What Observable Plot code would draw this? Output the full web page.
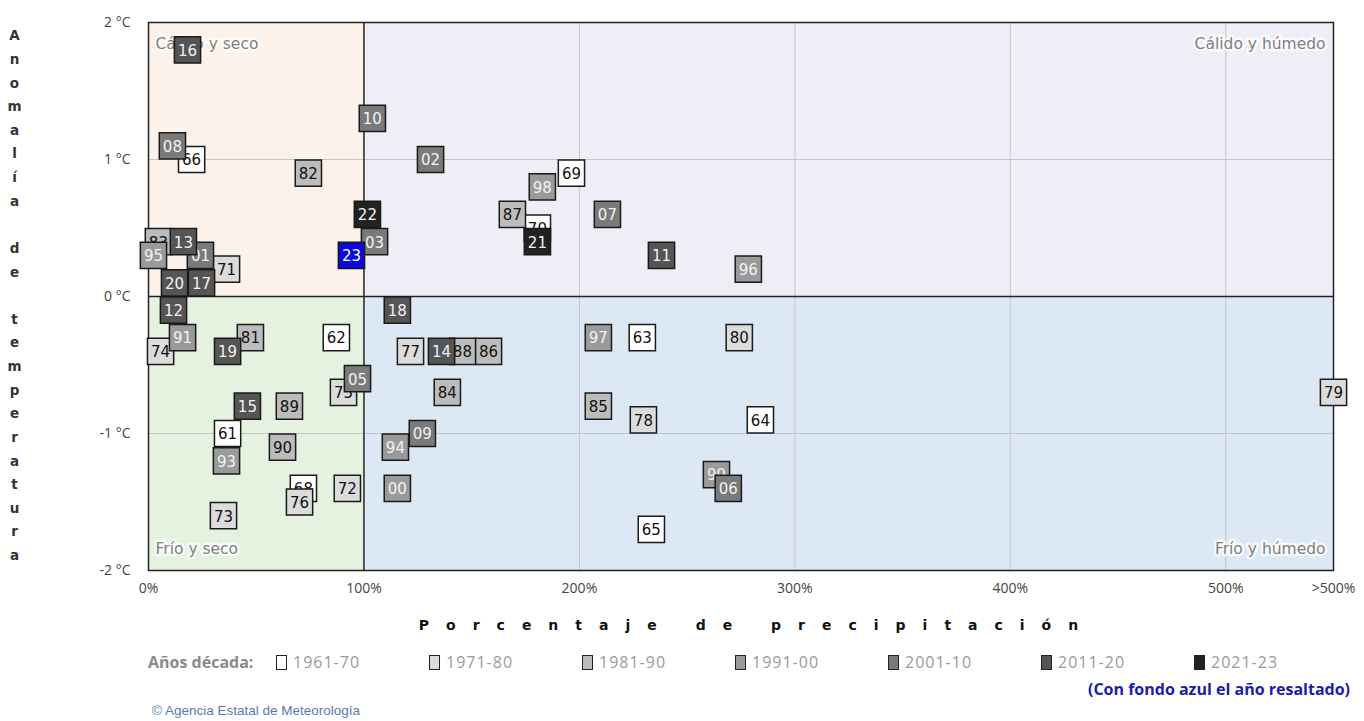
<!DOCTYPE html>
<html><head><meta charset="utf-8">
<script src="https://cdn.jsdelivr.net/npm/d3@7"></script>
<script src="https://cdn.jsdelivr.net/npm/@observablehq/plot@0.6"></script>
<style>
body{margin:0;background:#fff;}
#wrap{position:relative;width:1364px;height:721px;overflow:hidden;background:#fff}
#chart{position:absolute;left:0;top:0}
#chart svg g[aria-label$="tick label"], #chart svg g[aria-label$="tick label"] text{font-size:14px !important;font-family:"Open Sans",sans-serif}
#xlabel{position:absolute;left:0;width:1364px;top:617px;text-align:center;font:bold 14px "DejaVu Sans",sans-serif;letter-spacing:17px;color:#111;padding-left:150px;box-sizing:border-box}
#legend{position:absolute;left:148px;top:650px;height:24px;display:flex;align-items:center;font-family:"Open Sans",sans-serif;font-size:16px;color:#9a9a9a}
#legend .ttl{font-weight:bold;color:#8a8a8a;width:128px}
#legend .it{display:flex;align-items:center;width:153px}
#legend .sw{width:11px;height:15px;border:1.5px solid #222;margin-right:6px;box-sizing:border-box}
#legend .lb{letter-spacing:1px}
#note{position:absolute;right:14px;top:678px;font:bold 16px "Open Sans",sans-serif;color:#1c1ca8}
#copy{position:absolute;left:152px;top:703px;font:13.5px "Liberation Sans",sans-serif;color:#5a78b0}
</style></head><body>
<div id="wrap">
<div id="chart"></div>
<div id="xlabel">Porcentaje de precipitación</div>
<div id="legend"></div>
<div id="note">(Con fondo azul el año resaltado)</div>
<div id="copy">© Agencia Estatal de Meteorología</div>
</div>
<script>
// ---- data ----
const years = [1961,1962,1963,1964,1965,1966,1968,1969,1970,1971,1972,1973,1974,1975,1976,1977,1978,1979,1980,
  1981,1982,1983,1984,1985,1986,1987,1988,1989,1990,1991,1993,1994,1995,1996,1997,1998,1999,2000,
  2001,2002,2003,2005,2006,2007,2008,2009,2010,2011,2012,2013,2014,2015,2016,2017,2018,2019,2020,2021,2022,2023];
const precipitation = [36.7,87.2,229.2,284.0,233.4,20.0,71.9,196.3,180.5,36.2,92.3,34.8,5.6,90.5,70.1,121.6,229.7,550,274.2,
  47.3,74.2,4.6,138.7,208.8,157.8,168.9,145.7,65.4,62.2,15.8,36.2,114.6,2.3,278.4,208.8,182.8,263.6,115.5,
  24.1,130.9,104.9,97.0,269.1,213.0,11.1,127.1,103.9,238.1,11.6,16.2,136.0,45.9,18.1,24.6,115.5,36.7,12.1,180.5,101.6,94.2];
const tempAnomaly = [-1.0,-0.3,-0.3,-0.9,-1.7,1.0,-1.4,0.9,0.5,0.2,-1.4,-1.6,-0.4,-0.7,-1.5,-0.4,-0.9,-0.7,-0.3,
  -0.3,0.9,0.4,-0.7,-0.8,-0.4,0.6,-0.4,-0.8,-1.1,-0.3,-1.2,-1.1,0.3,0.2,-0.3,0.8,-1.3,-1.4,
  0.3,1.0,0.4,-0.6,-1.4,0.6,1.1,-1.0,1.3,0.3,-0.1,0.4,-0.4,-0.8,1.8,0.1,-0.1,-0.4,0.1,0.4,0.6,0.3];
const highlightYear = 2023;
const decades = ["1961-70","1971-80","1981-90","1991-00","2001-10","2011-20","2021-23"];
const decadeFills = ["#ffffff","#dcdcdc","#bcbcbc","#9a9a9a","#7a7a7a","#555555","#222222"];
const decadeText = ["#111","#111","#111","#f2f2f2","#f2f2f2","#f2f2f2","#f2f2f2"];
const highlightFill = "#0a0ae0";
const xTicks = [0,100,200,300,400,500,550];
const xTickLabels = ["0%","100%","200%","300%","400%","500%",">500%"];
const yTicks = [-2,-1,0,1,2];
const quadNames = ["Cálido y seco","Cálido y húmedo","Frío y seco","Frío y húmedo"];
const quadFills = ["#fcf2ea","#efeef7","#e5f2e0","#dde8f5"];
const quadX1 = [0,100,0,100], quadX2 = [100,550,100,550];
const quadY1 = [0,0,-2,-2], quadY2 = [2,2,0,0];
const yAxisTitle = "Anomalía de temperatura";

// ---- build ----
const decIdx = y => y <= 1970 ? 0 : y <= 1980 ? 1 : y <= 1990 ? 2 : y <= 2000 ? 3 : y <= 2010 ? 4 : y <= 2020 ? 5 : 6;
const data = years.map((y,i) => ({
  year: y, label: String(y % 100).padStart(2,"0"),
  p: precipitation[i], t: tempAnomaly[i],
  fill: y === highlightYear ? highlightFill : decadeFills[decIdx(y)],
  tc: y === highlightYear ? "#ffffff" : decadeText[decIdx(y)]
})).sort((a,b) => (a.year===highlightYear) - (b.year===highlightYear) || a.year - b.year);

const quads = quadNames.map((n,i) => ({x1:quadX1[i],x2:quadX2[i],y1:quadY1[i],y2:quadY2[i],fill:quadFills[i]}));
const anchors = ["top-left","top-right","bottom-left","bottom-right"];

const pointMarks = data.flatMap(d => [
  Plot.dot([d], {x:"p", y:"t", symbol:"square", r:14.8, fill:"fill", stroke:"#1a1a1a", strokeWidth:1.5}),
  Plot.text([d], {x:"p", y:"t", text:"label", fill:"tc", fontSize:15, fontFamily:"DejaVu Sans", dy:1})
]);

const yTitle = yAxisTitle.split("").map(c => c === " " ? "" : c).join("\n");

const chart = Plot.plot({
  width: 1364, height: 600,
  marginLeft: 148, marginRight: 31, marginTop: 22, marginBottom: 30,
  style: {fontFamily: "Open Sans, sans-serif", fontSize: "14px", background: "transparent"},
  x: {domain: [0,550], label: null},
  y: {domain: [-2,2], label: null},
  marks: [
    Plot.rect(quads, {x1:"x1", x2:"x2", y1:"y1", y2:"y2", fill:"fill"}),
    Plot.gridX([200,300,400,500], {stroke:"#c4c4cc", strokeOpacity:1}),
    Plot.gridY([-1,1], {stroke:"#c4c4cc", strokeOpacity:1}),
    Plot.ruleX([100], {stroke:"#222", strokeWidth:1.5}),
    Plot.ruleY([0], {stroke:"#222", strokeWidth:1.5}),
    Plot.frame({stroke:"#222", strokeWidth:1.5}),
    ...quadNames.map((n,i) => Plot.text([n], {
      frameAnchor: anchors[i], text: d => d, lineAnchor: "middle",
      textAnchor: i % 2 === 0 ? "start" : "end",
      dx: i % 2 === 0 ? 7 : -8, dy: i < 2 ? 22 : -21,
      fill: "#808080", fontSize: 15.5, fontFamily: "DejaVu Sans",
      stroke: "#ffffff", strokeWidth: 5, strokeOpacity: 0.75
    })),
    ...pointMarks,
    Plot.axisX(xTicks, {tickSize:0, tickPadding:13, tickFormat:(d,i)=>xTickLabels[i], fill:"#444", fontSize:14, label:null}),
    Plot.axisY(yTicks, {tickSize:0, tickPadding:18, tickFormat:d => d + " °C", fill:"#444", fontSize:14, label:null}),
    Plot.text([yTitle], {frameAnchor:"top-left", text:d=>d, lineAnchor:"top", textAnchor:"middle",
      dx:-134, dy:1, lineHeight:1.75, fontSize:13.5, fontWeight:"bold", fill:"#333", fontFamily:"DejaVu Sans"})
  ]
});
document.getElementById("chart").appendChild(chart);

// legend
const lg = document.getElementById("legend");
const ttl = document.createElement("div"); ttl.className = "ttl"; ttl.textContent = "Años década:"; lg.appendChild(ttl);
decades.forEach((d,i) => {
  const it = document.createElement("div"); it.className = "it";
  const sw = document.createElement("div"); sw.className = "sw"; sw.style.background = decadeFills[i];
  const lb = document.createElement("span"); lb.className = "lb"; lb.textContent = d;
  it.appendChild(sw); it.appendChild(lb); lg.appendChild(it);
});
</script>
</body></html>
